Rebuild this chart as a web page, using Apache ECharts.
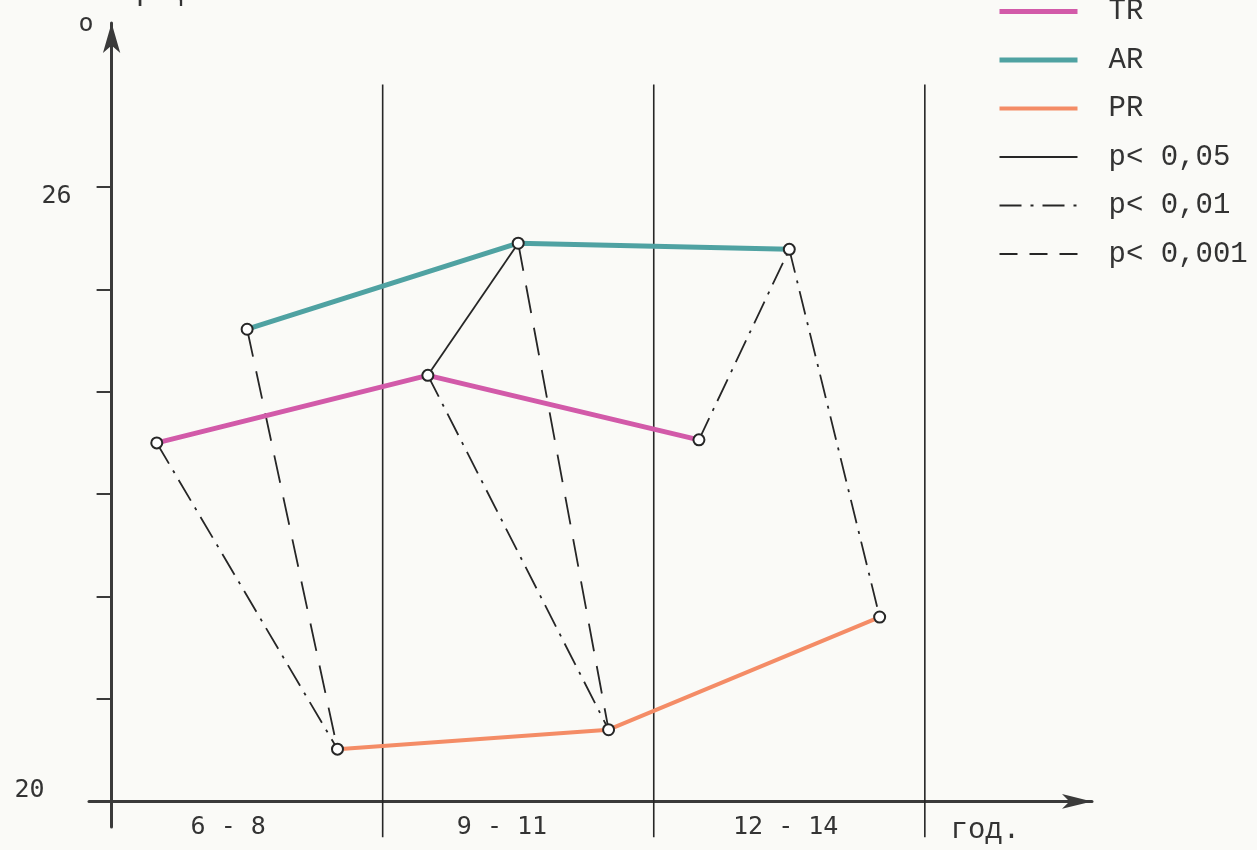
<!DOCTYPE html>
<html>
<head>
<meta charset="utf-8">
<script src="https://cdn.jsdelivr.net/npm/echarts@6/dist/echarts.min.js"></script>
<style>
  html, body { margin: 0; padding: 0; background: #fafaf7; }
  #chart { width: 1257px; height: 850px; }
</style>
</head>
<body>
<div id="chart"></div>
<script>
// ---- data ----
const chartTitle = 'Графикон 35.';
const yAxisTitle = 'о';
const unitLabel = 'год.';
const categories = ['6 - 8', '9 - 11', '12 - 14'];
const seriesNames = ['TR', 'AR', 'PR'];
const trValues = [23.50, 24.16, 23.53];
const arValues = [24.61, 25.45, 25.39];
const prValues = [20.51, 20.70, 21.80];
const yTickValues = [20, 21, 22, 23, 24, 25, 26];
const yLabelValues = [20, 26];
const sigLabels = ['p< 0,05', 'p< 0,01', 'p< 0,001'];
// [age group index, from series, to series, significance level index]
const sigPairs = [
  [0, 'TR', 'PR', 1],
  [0, 'AR', 'PR', 2],
  [1, 'TR', 'AR', 0],
  [1, 'TR', 'PR', 1],
  [1, 'AR', 'PR', 2],
  [2, 'TR', 'AR', 1],
  [2, 'AR', 'PR', 1]
];

// ---- styling ----
const seriesColors = { TR: '#d25aa9', AR: '#4fa2a2', PR: '#f48c66' };
const seriesWidths = { TR: 5, AR: 5, PR: 4 };
const sigLineTypes = ['solid', [24, 8, 3, 8], [28, 15]];
const legendLineTypes = ['solid', [22, 9, 3, 9], [18, 12]];
const ink = '#262626';

const valuesByName = { TR: trValues, AR: arValues, PR: prValues };
const perGroup = seriesNames.length;
function xPos(groupIdx, name) { return groupIdx * perGroup + seriesNames.indexOf(name) + 0.5; }
function point(groupIdx, name) { return [xPos(groupIdx, name), valuesByName[name][groupIdx]]; }

const series = [];

// group separators (custom series through the axes' scales)
const separatorData = categories.map((c, i) => [(i + 1) * perGroup, 27.0, 19.65]);
series.push({
  type: 'custom',
  name: 'separators',
  data: separatorData,
  encode: { x: 0, y: 1 },
  clip: false,
  silent: true,
  z: 1,
  renderItem: function (params, api) {
    const a = api.coord([api.value(0), api.value(1)]);
    const b = api.coord([api.value(0), api.value(2)]);
    return {
      type: 'line',
      shape: { x1: a[0], y1: a[1], x2: b[0], y2: b[1] },
      style: { stroke: ink, lineWidth: 1.6 }
    };
  }
});

// main series
seriesNames.forEach(name => {
  series.push({
    type: 'line',
    name: name,
    data: categories.map((c, g) => point(g, name)),
    symbol: 'none',
    lineStyle: { color: seriesColors[name], width: seriesWidths[name] },
    itemStyle: { color: seriesColors[name] },
    z: 3
  });
});

// significance connectors
sigPairs.forEach(([g, a, b, lvl]) => {
  series.push({
    type: 'line',
    name: sigLabels[lvl],
    data: [point(g, a), point(g, b)],
    symbol: 'none',
    lineStyle: { color: ink, width: 1.8, type: sigLineTypes[lvl] },
    itemStyle: { color: ink },
    z: 2
  });
});

// open circles at every point
const allPoints = [];
categories.forEach((c, g) => seriesNames.forEach(n => allPoints.push(point(g, n))));
series.push({
  type: 'scatter',
  name: 'points',
  data: allPoints,
  symbol: 'circle',
  symbolSize: 11,
  itemStyle: { color: '#ffffff', borderColor: ink, borderWidth: 2, opacity: 1 },
  z: 5
});

const xLabelPositions = [1.29, 4.32, 7.46, 9.67];
const xLabels = categories.concat([unitLabel]);

const legendData = seriesNames.map(n => ({ name: n, lineStyle: { width: seriesWidths[n], color: seriesColors[n] } }))
  .concat(sigLabels.map((n, i) => ({ name: n, lineStyle: { width: 1.8, color: ink, type: legendLineTypes[i] } })));

const option = {
  backgroundColor: '#fafaf7',
  animation: false,
  title: {
    text: chartTitle,
    left: 118,
    top: -23,
    padding: 0,
    textStyle: { fontFamily: 'Liberation Mono', fontSize: 30, fontWeight: 'normal', color: '#333' }
  },
  legend: {
    orient: 'vertical',
    left: 992,
    top: -8,
    itemWidth: 78,
    itemHeight: 14,
    itemGap: 19.5,
    data: legendData,
    selectedMode: false,
    itemStyle: { color: 'rgba(0,0,0,0)', borderWidth: 0, opacity: 0 },
    textStyle: { fontFamily: 'Liberation Mono', fontSize: 29, color: '#333', padding: [0, 0, 0, 26] }
  },
  grid: { left: 89, top: 23, width: 1003, height: 804, outerBoundsMode: 'none' },
  xAxis: {
    type: 'value',
    min: -0.25,
    max: 10.85,
    offset: -25.6,
    splitLine: { show: false },
    axisTick: { show: false },
    axisLine: {
      show: true,
      lineStyle: { color: '#3a3a3a', width: 3 },
      symbol: ['none', 'arrow'],
      symbolSize: [11, 30]
    },
    axisLabel: {
      customValues: xLabelPositions,
      margin: 14,
      formatter: function (v) {
        let best = 0;
        xLabelPositions.forEach((p, i) => { if (Math.abs(p - v) < Math.abs(xLabelPositions[best] - v)) best = i; });
        const t = xLabels[best];
        return t === unitLabel ? '{u|' + t + '}' : '{d|' + t + '}';
      },
      rich: {
        d: { fontFamily: 'DejaVu Sans Mono', fontSize: 25, color: '#333' },
        u: { fontFamily: 'Liberation Mono', fontSize: 29, color: '#333' }
      }
    }
  },
  yAxis: {
    type: 'value',
    min: 19.75,
    max: 27.6,
    offset: -22.6,
    name: yAxisTitle,
    nameLocation: 'end',
    nameGap: -16,
    nameTextStyle: { fontFamily: 'DejaVu Sans Mono', fontSize: 25, color: '#333', align: 'right', padding: [0, 18, 2, 0] },
    splitLine: { show: false },
    axisLine: {
      show: true,
      lineStyle: { color: '#3a3a3a', width: 3 },
      symbol: ['none', 'arrow'],
      symbolSize: [13, 30]
    },
    axisTick: {
      show: true,
      customValues: yTickValues,
      length: 15,
      lineStyle: { color: '#3a3a3a', width: 2 }
    },
    axisLabel: {
      customValues: yLabelValues,
      margin: 40,
      formatter: function (v) { return v === yLabelValues[1] ? '{a|' + v + '}' : '{b|' + v + '}'; },
      rich: {
        a: { fontFamily: 'DejaVu Sans Mono', fontSize: 25, color: '#333', padding: [20, 0, 0, 0] },
        b: { fontFamily: 'DejaVu Sans Mono', fontSize: 25, color: '#333', padding: [0, 27, 22, 0] }
      }
    }
  },
  series: series
};

const chart = echarts.init(document.getElementById('chart'), null, { renderer: 'canvas' });
chart.setOption(option);
</script>
</body>
</html>
